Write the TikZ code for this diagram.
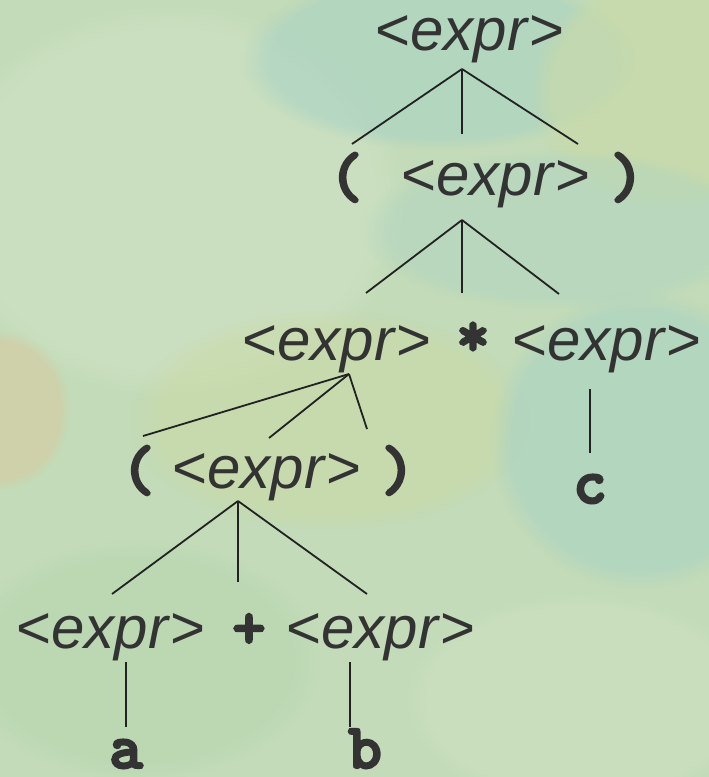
\documentclass[tikz,border=0pt]{standalone}
\usepackage{fontspec}
\setmainfont{Liberation Sans}
\newfontfamily\termfont{lmmonolt10-bold.otf}[FakeBold=3.5]
\usetikzlibrary{fadings}
\definecolor{bgbase}{HTML}{C3DBB8}
\definecolor{bgblue}{HTML}{A6D2C6}
\definecolor{bgyellow}{HTML}{CBDAA6}
\definecolor{bgorange}{HTML}{D6CBA2}
\definecolor{bggreen}{HTML}{B4D6B0}
\definecolor{bgpale}{HTML}{CFE2C4}
\definecolor{ink}{HTML}{333333}
\definecolor{lineink}{HTML}{222222}
\newcommand\exprsym{<\textit{expr}>}
\begin{document}
\begin{tikzpicture}[x=1pt,y=-1pt,
  nt/.style={inner sep=0pt, outer sep=0pt, anchor=base, text=ink,
    font=\fontsize{60}{72}\selectfont},
  tm/.style={inner sep=0pt, outer sep=0pt, anchor=base, text=ink,
    font=\termfont\fontsize{64}{72}\selectfont},
  edge/.style={draw=lineink, line width=1.8pt},
  blob/.style={path fading=circle with fuzzy edge 15 percent}]
% background
\fill[bgbase] (0,0) rectangle (709,777);
\useasboundingbox (0,0) rectangle (709,777);
\begin{scope}
\clip (0,0) rectangle (709,777);
\fill[bgpale, blob, opacity=0.6] (170,200) ellipse (240 and 200);
\fill[bgblue, blob, opacity=0.55] (440,60) ellipse (200 and 90);
\fill[bgyellow, blob, opacity=0.6] (670,90) ellipse (140 and 120);
\fill[bgyellow, blob, opacity=0.55] (330,420) ellipse (200 and 110);
\fill[bgblue, blob, opacity=0.55] (640,440) ellipse (150 and 150);
\fill[bgblue, blob, opacity=0.35] (560,230) ellipse (200 and 80);
\fill[bgorange, blob, opacity=0.6] (0,410) ellipse (70 and 80);
\fill[bggreen, blob, opacity=0.5] (140,660) ellipse (180 and 120);
\fill[bgpale, blob, opacity=0.45] (580,700) ellipse (180 and 110);
\end{scope}
% row 1
\node[nt] (e1) at (470,50) {\exprsym};
% row 2
\node[tm] (lp2) at (346,197) {(};
\node[nt] (e2) at (496,195) {\exprsym};
\node[tm] (rp2) at (627,197) {)};
% row 3
\node[nt] (e3a) at (337,360) {\exprsym};
\node[tm] (star) at (473,356) {*};
\node[nt] (e3b) at (607,360) {\exprsym};
% row 4
\node[tm] (lp4) at (138,490) {(};
\node[nt] (e4) at (267,488) {\exprsym};
\node[tm] (rp4) at (398,490) {)};
\node[tm] (c) at (590,503) {c};
% row 5
\node[nt] (e5a) at (111,648) {\exprsym};
\node[tm] (plus) at (249,648) {+};
\node[nt] (e5b) at (381,648) {\exprsym};
\node[tm] (a) at (126,768) {a};
\node[tm] (b) at (365,768) {b};
% connectors
\draw[edge] ([shift={(-8,19)}]e1.base) -- ([shift={(6,-53)}]lp2.base);
\draw[edge] ([shift={(-8,19)}]e1.base) -- ([shift={(-34,-61)}]e2.base);
\draw[edge] ([shift={(-8,19)}]e1.base) -- ([shift={(-49,-53)}]rp2.base);
\draw[edge] ([shift={(-34,25)}]e2.base) -- ([shift={(29,-67)}]e3a.base);
\draw[edge] ([shift={(-34,25)}]e2.base) -- ([shift={(-11,-63)}]star.base);
\draw[edge] ([shift={(-34,25)}]e2.base) -- ([shift={(-48,-66)}]e3b.base);
\draw[edge] ([shift={(12,14)}]e3a.base) -- ([shift={(5,-54)}]lp4.base);
\draw[edge] ([shift={(12,14)}]e3a.base) -- ([shift={(2,-50)}]e4.base);
\draw[edge] ([shift={(12,14)}]e3a.base) -- ([shift={(-31,-61)}]rp4.base);
\draw[edge] ([shift={(-17,29)}]e3b.base) -- ([shift={(0,-50)}]c.base);
\draw[edge] ([shift={(-29,13)}]e4.base) -- ([shift={(1,-54)}]e5a.base);
\draw[edge] ([shift={(-29,13)}]e4.base) -- ([shift={(-11,-66)}]plus.base);
\draw[edge] ([shift={(-29,13)}]e4.base) -- ([shift={(-14,-54)}]e5b.base);
\draw[edge] ([shift={(15,14)}]e5a.base) -- ([shift={(0,-41)}]a.base);
\draw[edge] ([shift={(-31,14)}]e5b.base) -- ([shift={(-15,-41)}]b.base);
\end{tikzpicture}
\end{document}
